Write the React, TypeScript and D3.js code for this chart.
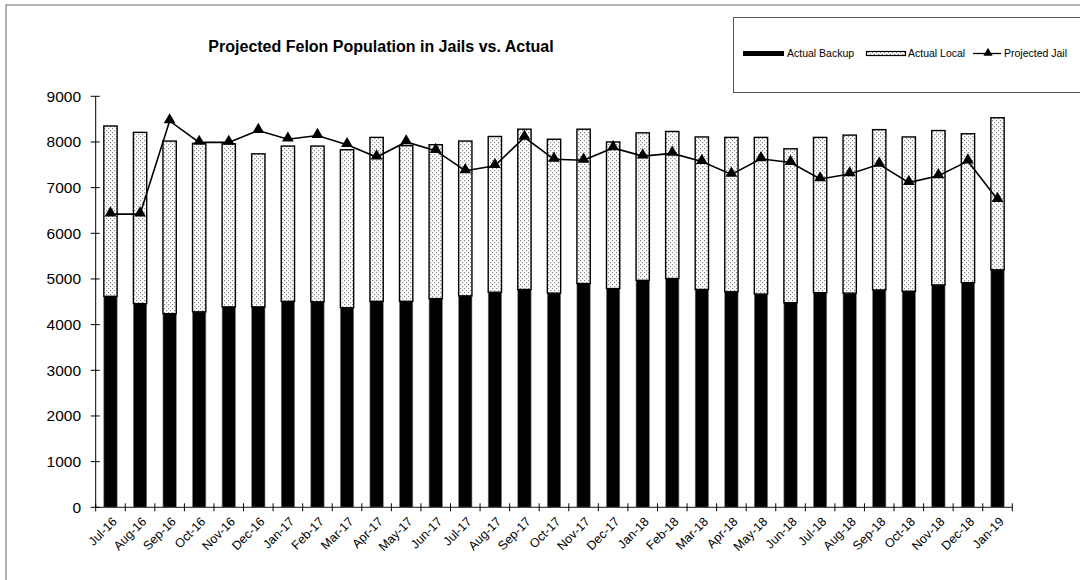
import React from "react";
import * as d3 from "d3";

const categories = [
  "Jul-16","Aug-16","Sep-16","Oct-16","Nov-16","Dec-16","Jan-17","Feb-17","Mar-17","Apr-17","May-17","Jun-17",
  "Jul-17","Aug-17","Sep-17","Oct-17","Nov-17","Dec-17","Jan-18","Feb-18","Mar-18","Apr-18","May-18","Jun-18",
  "Jul-18","Aug-18","Sep-18","Oct-18","Nov-18","Dec-18","Jan-19",
];
const actualBackup = [
  4620,4460,4240,4280,4390,4390,4510,4500,4370,4510,4510,4570,
  4630,4710,4770,4690,4900,4790,4970,5010,4770,4720,4670,4480,
  4700,4690,4760,4730,4870,4920,5200,
];
const actualLocal = [
  3730,3750,3780,3690,3570,3350,3400,3410,3460,3590,3410,3370,
  3390,3410,3510,3370,3380,3210,3230,3220,3340,3380,3430,3370,
  3400,3460,3510,3380,3380,3260,3330,
];
const projectedJail = [
  6420,6420,8460,7990,7990,8250,8060,8140,7940,7670,8000,7810,
  7370,7480,8100,7620,7600,7870,7690,7750,7570,7290,7630,7550,
  7190,7300,7510,7110,7260,7580,6740,
];
const yTicks = [0,1000,2000,3000,4000,5000,6000,7000,8000,9000];
const seriesNames = ["Actual Backup","Actual Local","Projected Jail"];
const title = "Projected Felon Population in Jails vs. Actual";

const FONT = "'Liberation Sans', Arial, sans-serif";

export default function App() {
  const x0 = 95.7, x1 = 1012.3, yTop = 96.3, yBot = 507.3;
  const x = d3.scaleBand<string>().domain(categories).range([x0, x1]).paddingInner(0.55).paddingOuter(0.275);
  const y = d3.scaleLinear().domain([0, 9000]).range([yBot, yTop]);
  const step = x.step();
  const bw = x.bandwidth();
  const cx = (c: string) => (x(c) as number) + bw / 2;

  const line = d3.line<number>().x((_, i) => cx(categories[i])).y((d) => y(d));
  const tri = d3.symbol().type(d3.symbolTriangle).size(60)();

  return (
    <svg width={1080} height={580} style={{ position: "absolute", left: 0, top: 0, background: "#fff" }} fontFamily={FONT}>
      <defs>
        <pattern id="dots" width={4} height={4} patternUnits="userSpaceOnUse">
          <rect width={4} height={4} fill="#fff" />
          <rect x={0} y={0} width={1.2} height={1.2} fill="#8a8a8a" />
          <rect x={2} y={2} width={1.2} height={1.2} fill="#8a8a8a" />
        </pattern>
      </defs>
      {/* outer frame */}
      <rect x={6} y={5} width={1200} height={700} fill="none" stroke="#666" strokeWidth={1} />
      {/* title */}
      <text x={381} y={52} textAnchor="middle" fontSize={16} fontWeight="bold">{title}</text>

      {/* legend */}
      <rect x={733.5} y={17.5} width={400} height={75} fill="#fff" stroke="#555" strokeWidth={1} />
      <rect x={743} y={51} width={41} height={5} fill="#000" />
      <text x={787} y={57} fontSize={10.5}>{seriesNames[0]}</text>
      <rect x={866.5} y={51.5} width={39} height={4} fill="url(#dots)" stroke="#000" strokeWidth={1.2} />
      <text x={908} y={57} fontSize={10.5}>{seriesNames[1]}</text>
      <line x1={973} x2={1001} y1={53.5} y2={53.5} stroke="#000" strokeWidth={1.3} />
      <path d={d3.symbol().type(d3.symbolTriangle).size(36)() as string} transform="translate(988,53)" fill="#000" />
      <text x={1004} y={57} fontSize={10.5}>{seriesNames[2]}</text>

      {/* bars */}
      {categories.map((c, i) => {
        const b = actualBackup[i];
        const l = actualLocal[i];
        return (
          <g key={c}>
            <rect x={x(c)} y={y(b)} width={bw} height={yBot - y(b)} fill="#000" stroke="#777" strokeWidth={0.6} />
            <rect x={x(c)} y={y(b + l)} width={bw} height={y(b) - y(b + l)} fill="url(#dots)" stroke="#000" strokeWidth={1.4} />
          </g>
        );
      })}

      {/* axes */}
      <line x1={x0} x2={x0} y1={yTop} y2={yBot} stroke="#000" strokeWidth={1} />
      <line x1={x0} x2={x1} y1={yBot} y2={yBot} stroke="#444" strokeWidth={1.2} />
      {yTicks.map((t) => (
        <g key={t}>
          <line x1={x0 - 5} x2={x0 + 4} y1={y(t)} y2={y(t)} stroke="#000" strokeWidth={1} />
          <text x={81} y={y(t)} dy="0.35em" textAnchor="end" fontSize={15.5}>{t}</text>
        </g>
      ))}
      {d3.range(categories.length + 1).map((i) => (
        <line key={i} x1={x0 + i * step} x2={x0 + i * step} y1={yBot - 4} y2={yBot + 4} stroke="#000" strokeWidth={1} />
      ))}
      {categories.map((c) => (
        <text key={c} transform={`translate(${cx(c) + 4},${yBot + 12}) rotate(-45)`} textAnchor="end" dy="0.35em" fontSize={12.5}>{c}</text>
      ))}

      {/* projected line */}
      <path d={line(projectedJail) as string} fill="none" stroke="#000" strokeWidth={1.6} />
      {projectedJail.map((v, i) => (
        <path key={i} d={tri as string} transform={`translate(${cx(categories[i])},${y(v) - 1})`} fill="#000" />
      ))}
    </svg>
  );
}
